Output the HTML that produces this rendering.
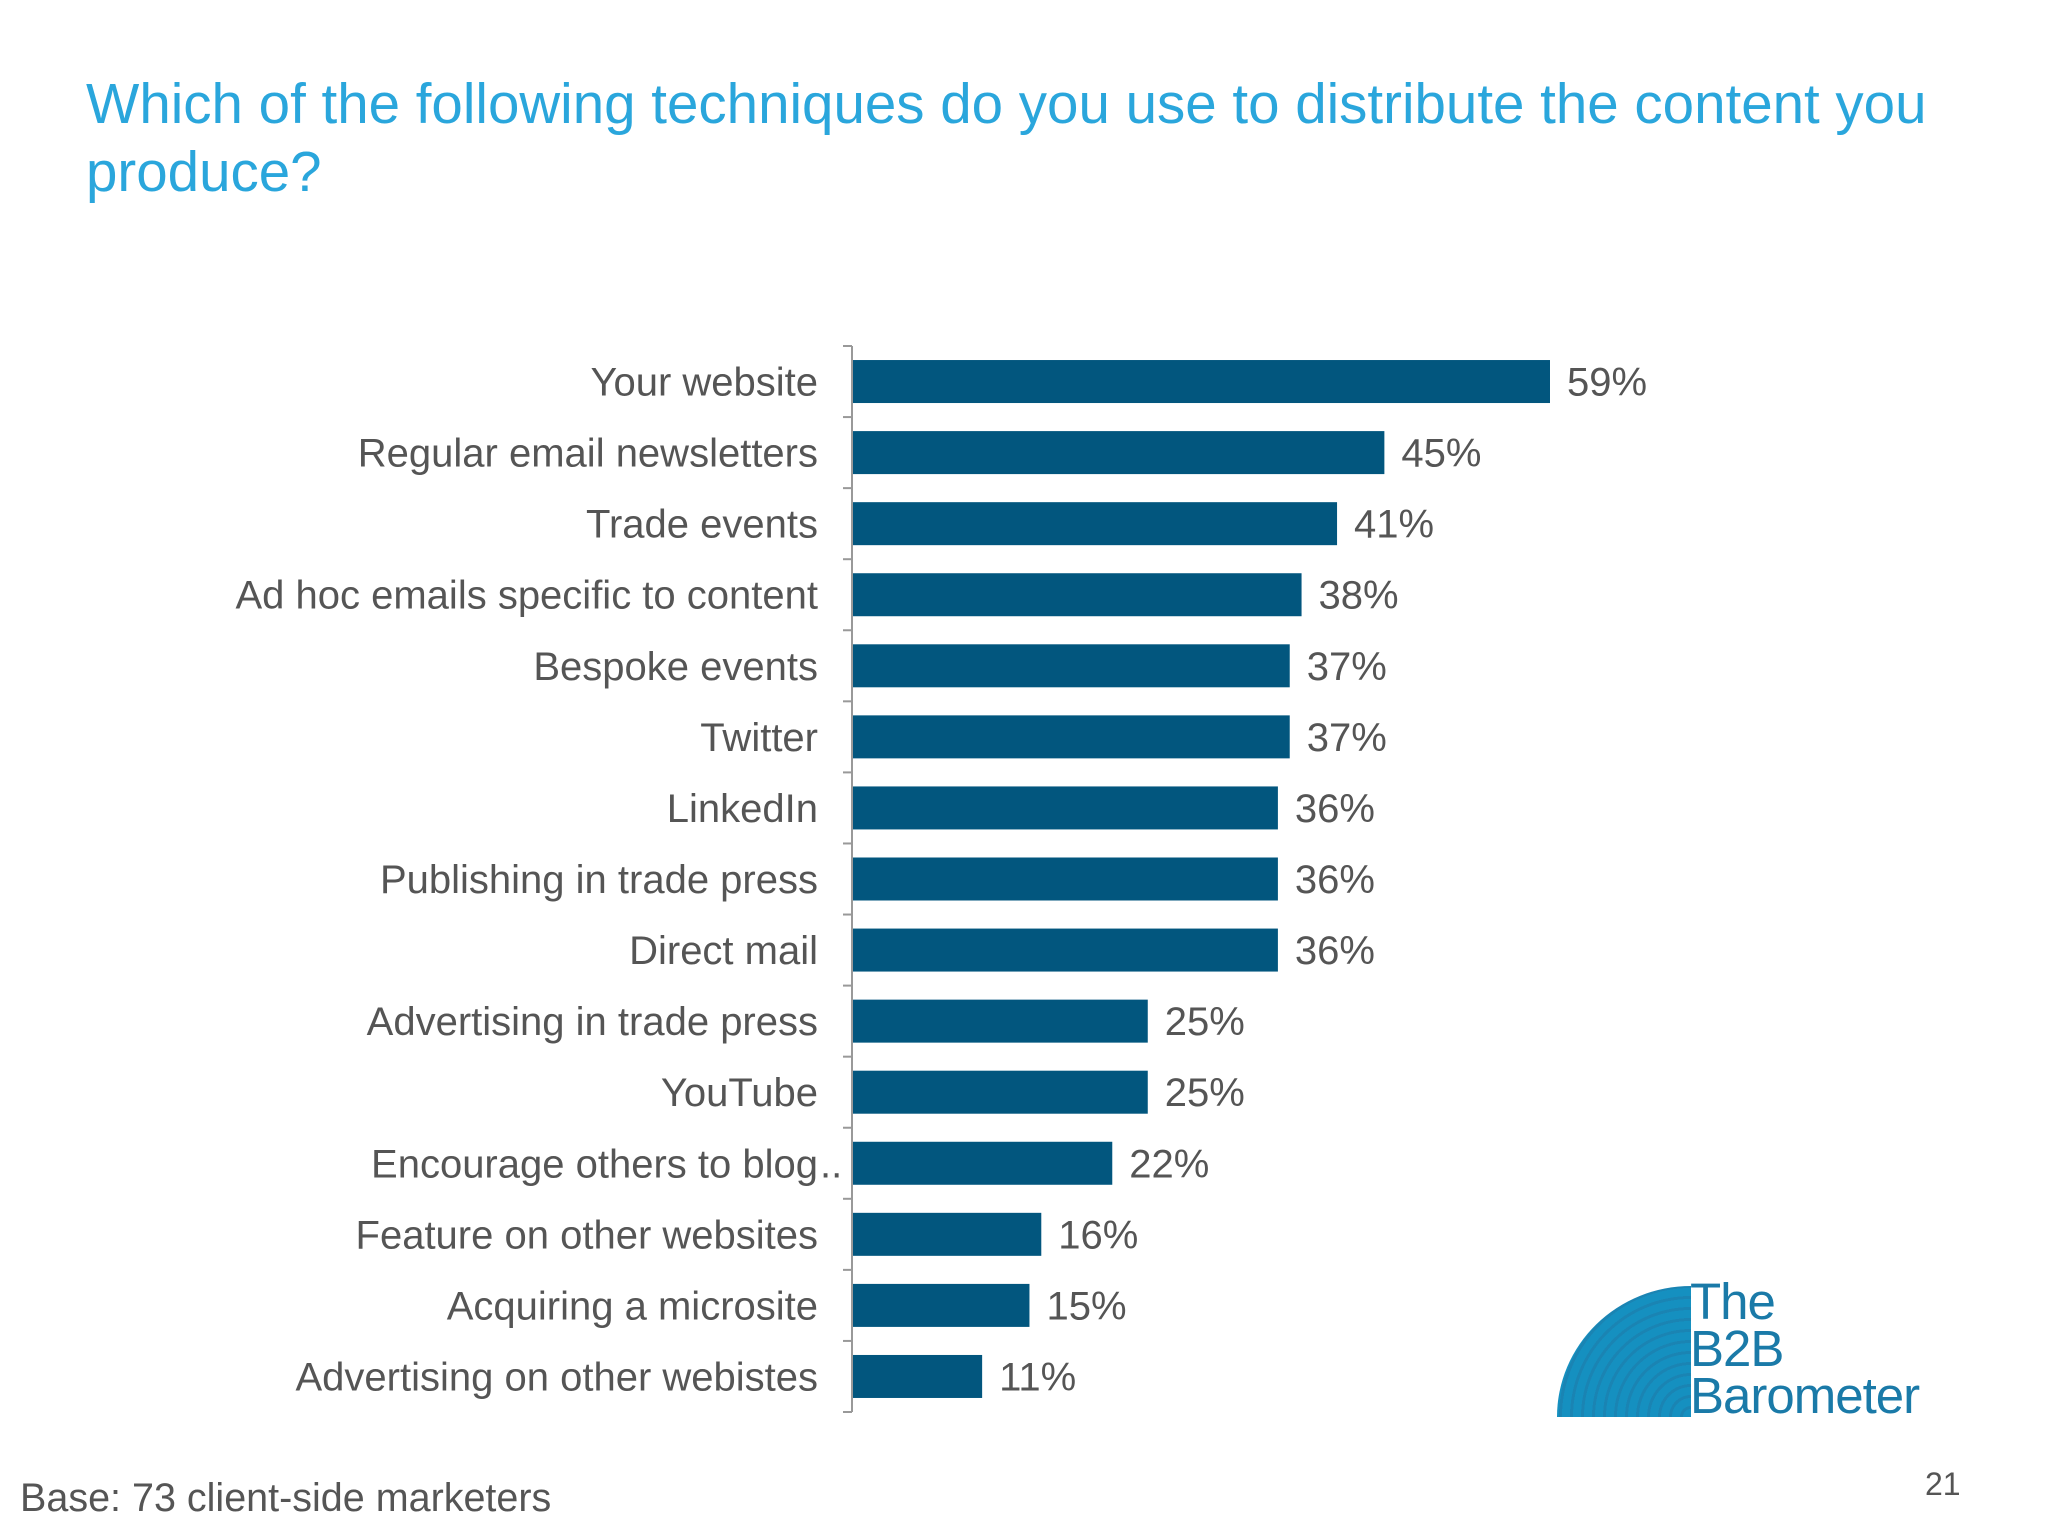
<!DOCTYPE html>
<html><head><meta charset="utf-8"><style>
body{margin:0;width:2048px;height:1536px;background:#fff;overflow:hidden;font-family:"Liberation Sans",Arial,sans-serif;position:relative}
.t{position:absolute;white-space:nowrap}
</style></head><body>
<div class="t" style="left:86px;top:70px;font-size:56.5px;line-height:68px;color:#2aa6dc">Which of the following techniques do you use to distribute the content you<br>produce?</div>
<svg id="chart" width="2048" height="1536" style="position:absolute;left:0;top:0"></svg>
<div class="t" style="left:20px;top:1476px;font-size:39.5px;color:#555">Base: 73 client-side marketers</div>
<div class="t" style="left:1925px;top:1466px;font-size:32px;color:#555">21</div>
<div style="position:absolute;left:1557px;top:1286px;width:134px;height:131px;border-top-left-radius:134px 131px;background:repeating-radial-gradient(circle at 100% 100%,#1590c0 0 8px,#1a84b3 8px 11px)"></div>
<div class="t" style="left:1690px;top:1278px;font-size:51px;line-height:47px;letter-spacing:-1px;color:#1a7aa8">The<br>B2B<br>Barometer</div>
<script>
const categories=["Your website","Regular email newsletters","Trade events","Ad hoc emails specific to content","Bespoke events","Twitter","LinkedIn","Publishing in trade press","Direct mail","Advertising in trade press","YouTube","Encourage others to blog..","Feature on other websites","Acquiring a microsite","Advertising on other webistes"];
const values=[59,45,41,38,37,37,36,36,36,25,25,22,16,15,11];
const svg=document.getElementById('chart');const NS='http://www.w3.org/2000/svg';
const x0=852,pxPer=(1550-852)/59,top0=346,pitch=(1412-346)/categories.length,bh=43;
const xs=v=>x0+v*pxPer;
function mk(t,a){const e=document.createElementNS(NS,t);for(const k in a)e.setAttribute(k,a[k]);svg.appendChild(e);return e;}
const ax=mk('line',{x1:x0,x2:x0,y1:top0,y2:top0+pitch*categories.length,stroke:'#999','stroke-width':2});


for(let i=0;i<=categories.length;i++){const tk=mk('line',{x1:x0-9,x2:x0,y1:top0+i*pitch,y2:top0+i*pitch,stroke:'#999','stroke-width':2});

}
categories.forEach((c,i)=>{const cy=top0+(i+0.5)*pitch;
const r=mk('rect',{x:x0+1,y:cy-bh/2,width:xs(values[i])-x0-1,height:bh,fill:'#02567e'});


const trunc=c.endsWith('..');
const l=mk('text',{x:818,y:cy+14,'text-anchor':'end','font-size':40,fill:'#555'});l.textContent=trunc?c.slice(0,-2):c;


if(trunc){const d=mk('text',{x:820,y:cy+14,'font-size':40,fill:'#555'});d.textContent='..';

}
const v=mk('text',{x:xs(values[i])+17,y:cy+14,'font-size':40,fill:'#555'});v.textContent=values[i]+'%';

});
</script>
</body></html>
